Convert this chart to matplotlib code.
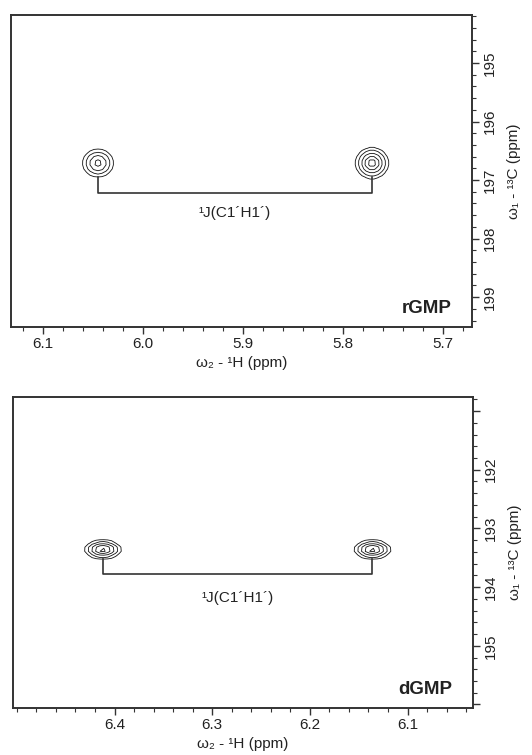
import numpy as np
import matplotlib
matplotlib.use("Agg")
import matplotlib.pyplot as plt
from matplotlib.ticker import MultipleLocator

plt.rcParams['font.family'] = ['Liberation Sans', 'DejaVu Sans']

# peak data: (H ppm, C ppm, sigma H, sigma C, height)
r_peaks = [(6.045, 196.71, 0.0068, 0.105, 0.68), (5.771, 196.71, 0.0068, 0.11, 1.0)]
d_peaks = [(6.412, 193.36, 0.0078, 0.064, 1.0), (6.136, 193.36, 0.0078, 0.064, 1.0)]
levels = [0.056, 0.149, 0.325, 0.576, 0.835]

r_xlim = (6.132, 5.671)
r_ylim = (199.51, 194.18)
d_xlim = (6.504, 6.033)
d_ylim = (196.06, 190.76)

r_xticks = [6.1, 6.0, 5.9, 5.8, 5.7]
r_yticks = [195, 196, 197, 198, 199]
d_xticks = [6.4, 6.3, 6.2, 6.1]
d_yticks = [191, 192, 193, 194, 195, 196]
d_ylabels = ['', '192', '193', '194', '195', '']

# bracket: (top of vertical line, bracket level, label y)
r_bracket = (196.95, 197.22, 197.57)
d_bracket = (193.52, 193.78, 194.19)

label = '¹J(C1´H1´)'
c = '#333333'


def panel(ax, peaks, xlim, ylim, xticks, yticks, ylabels, bracket, name):
    x = np.arange(min(xlim) - 0.01, max(xlim) + 0.01, 0.004)
    y = np.arange(min(ylim) - 0.1, max(ylim) + 0.1, 0.07)
    X, Y = np.meshgrid(x, y)
    Z = np.zeros_like(X)
    for px, py, sx, sy, h in peaks:
        Z += h * np.exp(-((X - px) ** 2 / (2 * sx ** 2) + (Y - py) ** 2 / (2 * sy ** 2)))
    ax.contour(X, Y, Z, levels=levels, colors='#111111', linewidths=0.6)

    top, lev, ty = bracket
    x1, x2 = peaks[0][0], peaks[1][0]
    ax.plot([x1, x1, x2, x2], [top, lev, lev, top], color=c, lw=1.2)
    ax.text((x1 + x2) / 2, ty, label, ha='center', va='center', fontsize=11, color='#222222')
    ax.text(0.955, 0.06, name, transform=ax.transAxes, ha='right', va='center',
            fontsize=13.5, fontweight='bold', color='#222222')

    ax.set_xlim(*xlim)
    ax.set_ylim(*ylim)
    ax.set_xticks(xticks)
    ax.set_xticklabels(['%.1f' % v for v in xticks])
    ax.xaxis.set_minor_locator(MultipleLocator(0.02))
    ax.set_yticks(yticks)
    ax.set_yticklabels(ylabels, rotation=90, va='center')
    ax.yaxis.set_minor_locator(MultipleLocator(0.2))
    ax.yaxis.tick_right()
    ax.yaxis.set_label_position('right')
    ax.tick_params(which='both', direction='out', color=c, labelsize=11, labelcolor='#222222')
    ax.tick_params(which='major', length=5, width=1.0)
    ax.tick_params(which='minor', length=3, width=0.8)
    ax.tick_params(axis='x', which='both', top=False, pad=2)
    ax.tick_params(axis='y', which='both', left=False, pad=3)
    for s in ax.spines.values():
        s.set_linewidth(1.4)
        s.set_color(c)
    ax.set_xlabel('ω₂ - ¹H (ppm)', fontsize=11, color='#222222', labelpad=4)
    ax.set_ylabel('ω₁ - ¹³C (ppm)', fontsize=11, color='#222222', rotation=90, labelpad=7)


fig = plt.figure(figsize=(5.32, 7.55), dpi=100)
ax1 = fig.add_axes([0.0207, 0.5669, 0.8665, 0.4132])
ax2 = fig.add_axes([0.0244, 0.0623, 0.8647, 0.4119])

panel(ax1, r_peaks, r_xlim, r_ylim, r_xticks, r_yticks, [str(v) for v in r_yticks], r_bracket, 'rGMP')
panel(ax2, d_peaks, d_xlim, d_ylim, d_xticks, d_yticks, d_ylabels, d_bracket, 'dGMP')

fig.savefig('out.png', dpi=100)
